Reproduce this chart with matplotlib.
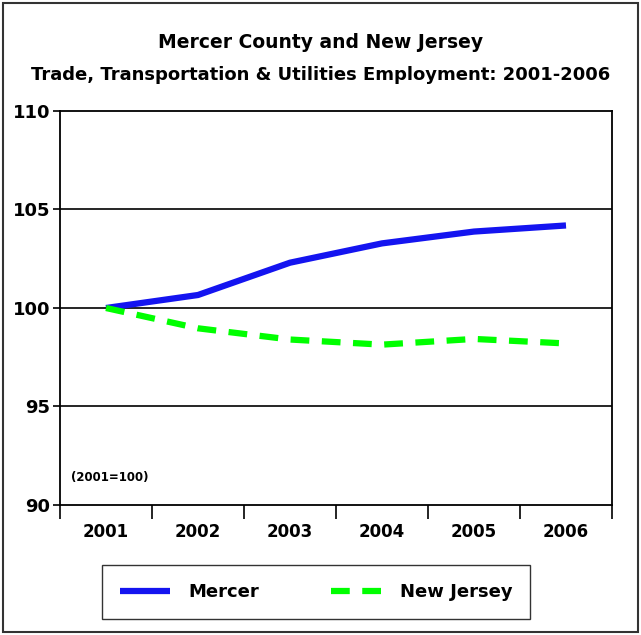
import matplotlib.pyplot as plt
from matplotlib.patches import Rectangle

# Data (index, 2001 = 100)
years = ["2001", "2002", "2003", "2004", "2005", "2006"]
mercer = [100.0, 100.66, 102.3, 103.28, 103.88, 104.19]
new_jersey = [100.0, 98.97, 98.4, 98.14, 98.43, 98.2]

plt.rcParams["font.family"] = ["DejaVu Sans"]

fig = plt.figure(figsize=(6.41, 6.35), dpi=100)
ax = fig.add_axes([60 / 641, 130 / 635, 552 / 641, 394 / 635])

x = list(range(len(years)))
ax.plot(x, mercer, color="#1414f0", linewidth=4.5, label="Mercer",
        solid_capstyle="butt")
ax.plot(x, new_jersey, color="#00ff00", linewidth=4.5, label="New Jersey",
        dashes=(3, 2), dash_capstyle="butt")

ax.set_xlim(-0.5, len(years) - 0.5)
ax.set_ylim(90, 110)
ax.set_yticks([90, 95, 100, 105, 110])
ax.set_yticklabels(["90", "95", "100", "105", "110"], fontsize=13, fontweight="bold")

# category labels centred, ticks on boundaries
ax.set_xticks(x)
ax.set_xticklabels(years, fontsize=12, fontweight="bold")
ax.tick_params(axis="x", length=0, pad=13)
ax.set_xticks([i - 0.5 for i in range(len(years) + 1)], minor=True)
ax.tick_params(axis="x", which="minor", length=10, width=1.2, direction="out")
ax.tick_params(axis="y", length=5, width=1.2, direction="out", pad=2)

for y in [95, 100, 105]:
    ax.axhline(y, color="black", linewidth=1.2, zorder=0)

for s in ax.spines.values():
    s.set_linewidth(1.3)

ax.text(0.02, 0.071, "(2001=100)", transform=ax.transAxes, fontsize=8.5,
        fontweight="bold", va="center")

fig.text(0.5, 1 - 42 / 635, "Mercer County and New Jersey",
         ha="center", va="center", fontsize=13.5, fontweight="bold")
fig.text(0.5, 1 - 75 / 635, "Trade, Transportation & Utilities Employment: 2001-2006",
         ha="center", va="center", fontsize=13, fontweight="bold")

leg = fig.legend(loc="center", bbox_to_anchor=(316 / 641, 1 - 592 / 635),
                 ncol=2, frameon=True, fancybox=False,
                 edgecolor="black", handlelength=2.8, columnspacing=4,
                 borderpad=1.0, handletextpad=1.0, prop={"weight": "bold", "size": 13})
leg.get_frame().set_linewidth(1.0)

# outer border
fig.patches.append(Rectangle((3 / 641, 3 / 635), 635 / 641, 629 / 635,
                             transform=fig.transFigure, fill=False,
                             edgecolor="#333333", linewidth=1.5))

fig.savefig("out.png", dpi=100)
